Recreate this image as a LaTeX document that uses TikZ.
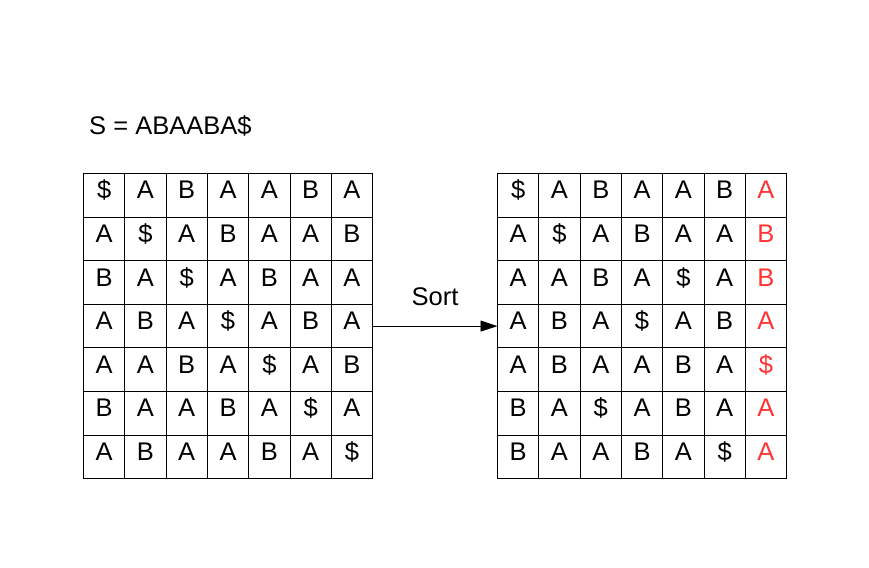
\documentclass[tikz,border=0pt]{standalone}
\usepackage{fontspec}
\setmainfont{Liberation Sans}
\usetikzlibrary{arrows.meta}
\definecolor{redtxt}{RGB}{255,51,51}
\tikzset{
  cell/.style={draw=black, line width=0.9pt, minimum width=41.3pt, minimum height=43.6pt,
    inner sep=0pt, outer sep=0pt, font=\fontsize{25.5pt}{30pt}\selectfont,
    text height=0.716em, text depth=0pt, anchor=north west},
  lbl/.style={font=\fontsize{25.5pt}{30pt}\selectfont, inner sep=0pt},
  conn/.style={line width=0.9pt, -{Triangle[length=17pt,width=11pt]}}
}
\begin{document}
\begin{tikzpicture}[x=1pt,y=-1pt]
\useasboundingbox (0,0) rectangle (869,567);
\fill[white] (0,0) rectangle (869,567);
\node[lbl, anchor=base west] (S) at (89,135) {S = ABAABA\$};
% left grid
\foreach \row [count=\i] in {{\$,A,B,A,A,B,A},{A,\$,A,B,A,A,B},{B,A,\$,A,B,A,A},{A,B,A,\$,A,B,A},{A,A,B,A,\$,A,B},{B,A,A,B,A,\$,A},{A,B,A,A,B,A,\$}}{
  \foreach \c [count=\j] in \row {
    \node[cell] (L-\i-\j) at ({83.5+41.3*(\j-1)},{173.5+43.6*(\i-1)}) {\c};
  }
}
% right grid
\foreach \row [count=\i] in {{\$,A,B,A,A,B,A},{A,\$,A,B,A,A,B},{A,A,B,A,\$,A,B},{A,B,A,\$,A,B,A},{A,B,A,A,B,A,\$},{B,A,\$,A,B,A,A},{B,A,A,B,A,\$,A}}{
  \foreach \c [count=\j] in \row {
    \ifnum\j=7
      \node[cell, text=redtxt] (R-\i-\j) at ({497.5+41.3*(\j-1)},{173.5+43.6*(\i-1)}) {\c};
    \else
      \node[cell] (R-\i-\j) at ({497.5+41.3*(\j-1)},{173.5+43.6*(\i-1)}) {\c};
    \fi
  }
}
\draw[conn] (L-4-7.east) -- node[lbl, above=20pt] (sort) {Sort} (R-4-1.west);
\end{tikzpicture}
\end{document}
